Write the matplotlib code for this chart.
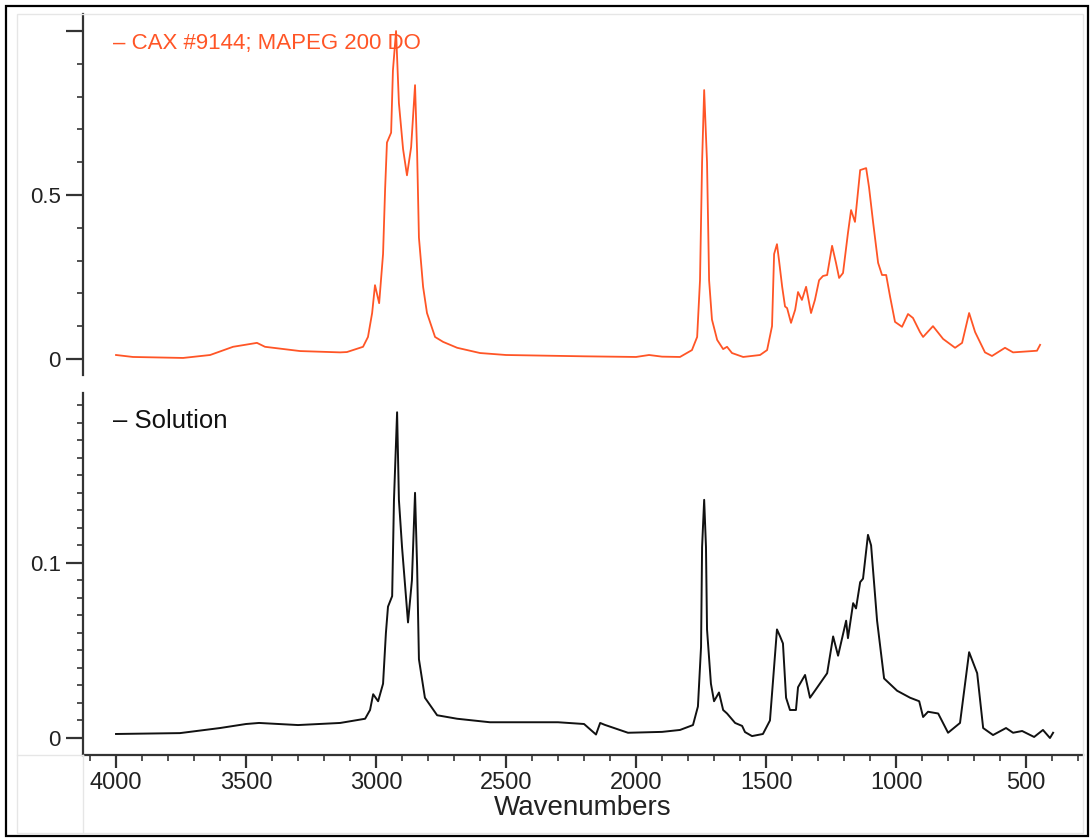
import matplotlib
matplotlib.use("Agg")
import matplotlib.pyplot as plt
from matplotlib.ticker import MultipleLocator, FixedLocator
from matplotlib.patches import Rectangle
from matplotlib.lines import Line2D

plt.rcParams['font.family'] = ['Liberation Sans', 'DejaVu Sans']

# reference spectrum (orange, top panel)
wn_ref = [4000, 3935, 3742, 3638, 3550, 3458, 3427, 3292, 3138, 3112, 3050, 3031,
          3015, 3004, 2988, 2973, 2965, 2958, 2942, 2935, 2923, 2912, 2896, 2881,
          2865, 2850, 2842, 2835, 2819, 2804, 2773, 2742, 2688, 2600, 2500, 2200,
          2000, 1950, 1900, 1831, 1785, 1765, 1754, 1746, 1738, 1727, 1719, 1708,
          1688, 1665, 1650, 1631, 1588, 1523, 1496, 1477, 1469, 1458, 1450, 1438,
          1427, 1419, 1404, 1388, 1377, 1362, 1346, 1327, 1312, 1296, 1281, 1265,
          1246, 1231, 1219, 1204, 1185, 1173, 1158, 1138, 1115, 1104, 1088, 1069,
          1054, 1038, 1023, 1004, 977, 954, 935, 908, 896, 858, 819, 773, 746, 719,
          696, 658, 631, 581, 550, 458, 446]
ab_ref = [0.012, 0.006, 0.003, 0.012, 0.037, 0.049, 0.037, 0.024, 0.020, 0.021, 0.037, 0.067,
          0.140, 0.225, 0.170, 0.320, 0.520, 0.660, 0.690, 0.880, 1.000, 0.780, 0.640, 0.560,
          0.646, 0.835, 0.630, 0.370, 0.220, 0.140, 0.067, 0.052, 0.034, 0.018, 0.012, 0.008,
          0.006, 0.012, 0.007, 0.006, 0.027, 0.067, 0.240, 0.600, 0.820, 0.600, 0.240, 0.120,
          0.058, 0.030, 0.037, 0.018, 0.006, 0.012, 0.027, 0.100, 0.320, 0.350, 0.300, 0.220,
          0.160, 0.155, 0.110, 0.150, 0.204, 0.180, 0.220, 0.140, 0.180, 0.240, 0.253, 0.256,
          0.345, 0.293, 0.247, 0.262, 0.384, 0.454, 0.418, 0.576, 0.582, 0.524, 0.415, 0.293,
          0.256, 0.256, 0.190, 0.113, 0.098, 0.137, 0.125, 0.082, 0.067, 0.100, 0.061, 0.034, 0.049, 0.140,
          0.082, 0.020, 0.009, 0.034, 0.020, 0.025, 0.043]

# solution spectrum (black, bottom panel)
wn_sol = [4000, 3754, 3600, 3500, 3450, 3300, 3138, 3042, 3023, 3011, 2992, 2973,
          2962, 2954, 2938, 2931, 2919, 2912, 2900, 2877, 2862, 2850, 2842, 2835,
          2812, 2765, 2688, 2562, 2300, 2200, 2154, 2138, 2120, 2031, 1977, 1900,
          1831, 1781, 1762, 1750, 1746, 1738, 1731, 1727, 1712, 1700, 1681, 1665,
          1650, 1619, 1592, 1581, 1554, 1512, 1485, 1473, 1458, 1446, 1435, 1423,
          1408, 1385, 1377, 1350, 1331, 1312, 1265, 1242, 1223, 1192, 1185, 1165,
          1154, 1138, 1127, 1108, 1096, 1073, 1046, 996, 946, 911, 896, 877, 838,
          800, 754, 719, 688, 665, 627, 577, 550, 515, 469, 435, 408, 396]
ab_sol = [0.0023, 0.0028, 0.0057, 0.0080, 0.0086, 0.0074, 0.0086, 0.0110, 0.0160, 0.0250, 0.0210, 0.0310,
          0.0600, 0.0750, 0.0810, 0.1360, 0.1860, 0.1360, 0.1090, 0.0660, 0.0900, 0.1400, 0.0980, 0.0450,
          0.0230, 0.0130, 0.0110, 0.0090, 0.0090, 0.0080, 0.0020, 0.0086, 0.0075, 0.0030, 0.0032, 0.0035,
          0.0046, 0.0074, 0.0180, 0.0520, 0.1090, 0.1360, 0.1090, 0.0620, 0.0310, 0.0210, 0.0260, 0.0160,
          0.0140, 0.0086, 0.0069, 0.0034, 0.0011, 0.0023, 0.0100, 0.0330, 0.0620, 0.0580, 0.0540, 0.0230,
          0.0160, 0.0160, 0.0290, 0.0360, 0.0230, 0.0270, 0.0370, 0.0580, 0.0470, 0.0670, 0.0570, 0.0770,
          0.0740, 0.0890, 0.0910, 0.1160, 0.1100, 0.0670, 0.0340, 0.0270, 0.0230, 0.0210, 0.0120, 0.0150, 0.0140,
          0.0030, 0.0086, 0.0490, 0.0370, 0.0057, 0.0017, 0.0057, 0.0030, 0.0040, 0.0006, 0.0046, 0.0000, 0.0030]

orange = '#ff5526'
dark = '#333333'

fig = plt.figure(figsize=(10.91, 8.40), dpi=100)

# outer frame and light grid boxes
W, H = 1091.0, 840.0
fig.patches.append(Rectangle((6 / W, 4 / H), 1082 / W, 830 / H, transform=fig.transFigure,
                             fill=False, edgecolor='black', linewidth=1.6))
fig.patches.append(Rectangle((17 / W, 7 / H), 1066 / W, 819 / H, transform=fig.transFigure,
                             fill=False, edgecolor='#e6e6e6', linewidth=1.0))
fig.lines.append(Line2D([83 / W, 83 / W], [7 / H, 85 / H], transform=fig.transFigure,
                        color='#e6e6e6', linewidth=1.0))
fig.lines.append(Line2D([17 / W, 83 / W], [85 / H, 85 / H], transform=fig.transFigure,
                        color='#e6e6e6', linewidth=1.0))

ax1 = fig.add_axes([83 / W, (840 - 375) / H, 1000 / W, 361 / H])
ax2 = fig.add_axes([83 / W, (840 - 755) / H, 1000 / W, 362 / H])

ax1.plot(wn_ref, ab_ref, color=orange, linewidth=1.3)
ax2.plot(wn_sol, ab_sol, color='#111111', linewidth=1.4)

for ax in (ax1, ax2):
    ax.set_xlim(4127, 281)
    ax.spines['top'].set_visible(False)
    ax.spines['right'].set_visible(False)
    ax.spines['left'].set_color(dark)
    ax.spines['left'].set_linewidth(1.6)
    ax.tick_params(axis='y', which='major', length=12, width=1.6, color=dark,
                   labelsize=16, labelcolor='#222222', pad=4)
    ax.tick_params(axis='y', which='minor', length=4.5, width=1.2, color=dark)

ax1.spines['bottom'].set_visible(False)
ax1.set_ylim(-0.049, 1.052)
ax1.yaxis.set_major_locator(FixedLocator([0, 0.5, 1.0]))
ax1.set_yticklabels(['0', '0.5', ''])
ax1.yaxis.set_minor_locator(MultipleLocator(0.1))
ax1.set_xticks([])
ax1.tick_params(axis='x', which='both', bottom=False, labelbottom=False)

ax2.set_ylim(-0.0097, 0.197)
ax2.yaxis.set_major_locator(FixedLocator([0, 0.1]))
ax2.set_yticklabels(['0', '0.1'])
ax2.yaxis.set_minor_locator(MultipleLocator(0.01))
ax2.spines['bottom'].set_color(dark)
ax2.spines['bottom'].set_linewidth(1.6)
ax2.xaxis.set_major_locator(MultipleLocator(500))
ax2.xaxis.set_minor_locator(MultipleLocator(100))
ax2.tick_params(axis='x', which='major', length=9, width=1.6, color=dark,
                labelsize=17, labelcolor='#222222', pad=3)
ax2.tick_params(axis='x', which='minor', length=4, width=1.2, color=dark)
ax2.set_xlabel('Wavenumbers', fontsize=20, color='#222222', labelpad=1)

ax1.text(0.03, 0.917, '\u2013 CAX #9144; MAPEG 200 DO', transform=ax1.transAxes,
         color=orange, fontsize=16, va='center', ha='left')
ax2.text(0.03, 0.923, '\u2013 Solution', transform=ax2.transAxes,
         color='#111111', fontsize=18.5, va='center', ha='left')

fig.savefig('out.png', dpi=100)
